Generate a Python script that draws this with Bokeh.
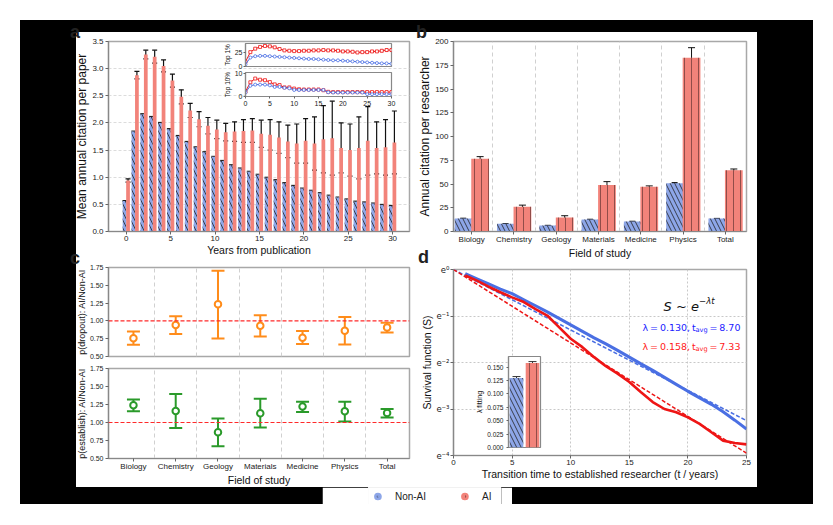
import numpy as np
from bokeh.plotting import figure
from bokeh.models import (ColumnDataSource, Whisker, TeeHead, FixedTicker, SingleIntervalTicker,
                          Span, Label, NumeralTickFormatter, CustomJSTickFormatter, Legend,
                          LegendItem, Range1d, Div, Column)
from bokeh.embed import file_html
from bokeh.resources import INLINE

# ---------------- data ----------------
years = list(range(31))
cit_nonai = [0.56, 1.84, 2.16, 2.11, 2.00, 1.885, 1.76, 1.65, 1.55, 1.46, 1.375, 1.30, 1.22, 1.16,
             1.10, 1.045, 0.99, 0.945, 0.89, 0.84, 0.79, 0.75, 0.705, 0.66, 0.625, 0.59, 0.55,
             0.535, 0.515, 0.49, 0.47]
cit_nonai_err = [0.01] * 31
cit_ai = [0.94, 2.88, 3.26, 3.22, 3.05, 2.78, 2.48, 2.23, 2.07, 1.95, 1.88, 1.83, 1.84, 1.85, 1.86,
          1.80, 1.78, 1.73, 1.66, 1.62, 1.67, 1.62, 1.70, 1.72, 1.54, 1.50, 1.54, 1.67, 1.54,
          1.55, 1.64]
cit_ai_err = [0.03, 0.07, 0.08, 0.12, 0.11, 0.12, 0.13, 0.13, 0.14, 0.15, 0.17, 0.16, 0.18, 0.21,
              0.22, 0.25, 0.28, 0.29, 0.30, 0.36, 0.41, 0.49, 0.62, 0.68, 0.46, 0.48, 0.57, 0.63,
              0.48, 0.51, 0.58]

top1_ai = [8.3, 25.0, 31.0, 34.0, 35.7, 35.0, 33.3, 30.4, 28.0, 27.4, 26.8, 26.8, 27.4, 27.4, 28.0,
           28.0, 28.6, 28.0, 28.0, 27.4, 26.2, 26.2, 25.6, 24.4, 25.0, 25.0, 26.2, 26.2, 27.4,
           28.6, 28.6]
top1_ai_err = [0.5, 0.8, 0.8, 0.8, 0.8, 0.8, 0.8, 0.8, 0.8, 0.8, 0.8, 0.8, 0.8, 0.8, 0.8, 1.0,
               1.0, 1.0, 1.0, 1.0, 1.2, 1.2, 1.2, 1.5, 1.5, 1.5, 1.5, 1.5, 2.0, 2.0, 2.0]
top1_nonai = [3.6, 15.5, 17.9, 18.5, 18.5, 17.9, 17.3, 16.7, 16.1, 15.5, 14.9, 14.3, 13.7, 13.1,
              13.1, 12.5, 11.9, 11.3, 10.7, 10.7, 10.1, 9.5, 8.9, 8.3, 7.7, 7.1, 6.5, 6.0, 5.4,
              5.4, 4.8]
top10_ai = [2.1, 6.1, 7.7, 7.2, 7.0, 6.2, 5.2, 4.9, 3.9, 3.9, 3.4, 3.1, 3.0, 3.0, 3.0, 3.0, 2.7,
            2.0, 1.9, 1.9, 1.9, 1.9, 1.9, 1.9, 1.9, 1.9, 1.9, 1.9, 1.9, 1.9, 1.9]
top10_nonai = [1.7, 4.6, 5.1, 5.1, 5.1, 4.8, 4.1, 4.1, 3.7, 3.5, 2.8, 2.8, 2.8, 2.8, 2.8, 2.8, 2.8,
               1.8, 1.7, 1.7, 1.7, 1.7, 1.7, 1.7, 1.7, 1.0, 1.0, 1.0, 1.0, 1.0, 1.0]

fields = ["Biology", "Chemistry", "Geology", "Materials", "Medicine", "Physics", "Total"]
res_nonai = [13.7, 8.1, 6.3, 12.6, 10.5, 50.9, 13.6]
res_nonai_err = [0.3, 0.2, 0.2, 0.3, 0.3, 0.6, 0.2]
res_ai = [76.5, 26.0, 14.7, 49.0, 47.0, 183.0, 64.6]
res_ai_err = [2.3, 1.75, 1.9, 3.5, 1.0, 10.5, 1.2]

dropout = [0.758, 0.942, 1.233, 0.932, 0.763, 0.862, 0.909]
dropout_hi = [0.852, 1.064, 1.703, 1.078, 0.857, 1.055, 0.975]
dropout_lo = [0.664, 0.815, 0.754, 0.782, 0.674, 0.669, 0.838]
establish = [1.241, 1.160, 0.863, 1.127, 1.222, 1.156, 1.132]
establish_hi = [1.321, 1.396, 1.057, 1.330, 1.288, 1.288, 1.189]
establish_lo = [1.156, 0.925, 0.670, 0.929, 1.146, 1.014, 1.071]

surv_t = list(range(1, 26))
surv_ln_nonai = [-0.09, -0.20, -0.31, -0.42, -0.52, -0.65, -0.78, -0.91, -1.05, -1.19, -1.33,
                 -1.47, -1.60, -1.74, -1.885, -2.03, -2.17, -2.32, -2.47, -2.62, -2.76, -2.90,
                 -3.06, -3.24, -3.43]
surv_ln_ai = [-0.13, -0.24, -0.37, -0.49, -0.60, -0.70, -0.85, -0.99, -1.24, -1.49, -1.67, -1.885,
              -2.08, -2.24, -2.42, -2.64, -2.85, -3.00, -3.07, -3.18, -3.32, -3.50, -3.68, -3.73,
              -3.76]
lam_groups = ["Non-AI", "AI"]
lam_values = [0.130, 0.158]
lam_err = [0.0025, 0.0025]
t_avg = [8.70, 7.33]
fit_t = [0, 25]

# ---------------- style ----------------
FONT = "Liberation Sans"
MATH = "DejaVu Sans"
BLUE_BAR = "#8DA6E8"
RED_BAR = "#F2837A"
BLUE_LINE = "#4A6FE3"
RED_LINE = "#EE1515"
ORANGE = "#FF8C1A"
GREEN = "#2A9A2A"
LB = 46  # generous left border so every frame sits at a fixed place


def abs_style(left, top):
    return {"position": "absolute", "left": f"{left}px", "top": f"{top}px"}


def base_fig(w, h, l, r, t, b, xr, yr, pos, y_type="linear"):
    p = figure(width=w, height=h, x_range=xr, y_range=yr, toolbar_location=None,
               output_backend="svg", min_border_left=l, min_border_right=r,
               min_border_top=t, min_border_bottom=b, y_axis_type=y_type, title=None,
               styles=abs_style(*pos))
    p.border_fill_color = None
    p.background_fill_color = "white"
    p.outline_line_color = "#a8a8a8"
    p.outline_line_width = 1.5
    p.xgrid.grid_line_color = None
    p.ygrid.grid_line_color = None
    for ax in p.axis:
        ax.axis_line_color = "#888888"
        ax.axis_line_width = 1.2
        ax.major_tick_line_color = "#666666"
        ax.major_tick_out = 3
        ax.major_tick_in = 0
        ax.minor_tick_line_color = None
        ax.axis_label_standoff = 0
        ax.major_label_text_font = FONT
        ax.axis_label_text_font = FONT
        ax.major_label_text_font_size = "8px"
        ax.axis_label_text_font_size = "10.5px"
        ax.major_label_text_color = "#222222"
        ax.axis_label_text_color = "#111111"
        ax.axis_label_text_font_style = "normal"
    p.yaxis.major_label_standoff = 1
    p.xaxis.major_label_standoff = 0
    return p


def whisker(src, base, lo, hi, color, width, size):
    return Whisker(source=src, base=base, lower=lo, upper=hi, line_color=color, line_width=width,
                   upper_head=TeeHead(size=size, line_color=color, line_width=width),
                   lower_head=TeeHead(size=size, line_color=color, line_width=width))


# ---------------- panel a ----------------
src_a = ColumnDataSource(dict(
    xn=[y - 0.2 for y in years], xa=[y + 0.2 for y in years],
    non=cit_nonai, ai=cit_ai,
    non_lo=[v - e for v, e in zip(cit_nonai, cit_nonai_err)],
    non_hi=[v + e for v, e in zip(cit_nonai, cit_nonai_err)],
    ai_lo=[v - e for v, e in zip(cit_ai, cit_ai_err)],
    ai_hi=[v + e for v, e in zip(cit_ai, cit_ai_err)]))
pa = base_fig(LB + 302 + 10, 9 + 190 + 34, LB, 10, 9, 34, Range1d(-2, 31.9), Range1d(0, 3.5),
              (108 - LB, 32))
pa.ygrid.grid_line_color = "#dcdcdc"
pa.ygrid.grid_line_dash = "3 2"
pa.vbar(x="xn", top="non", width=0.4, source=src_a, fill_color=BLUE_BAR, line_color=None,
        hatch_pattern="\\", hatch_color="#222222", hatch_scale=8, hatch_weight=0.8)
pa.vbar(x="xa", top="ai", width=0.42, source=src_a, fill_color=RED_BAR, line_color=None)
pa.add_layout(whisker(src_a, "xn", "non_lo", "non_hi", "#111111", 1, 4))
pa.add_layout(whisker(src_a, "xa", "ai_lo", "ai_hi", "#111111", 1.2, 5))
pa.xaxis.ticker = SingleIntervalTicker(interval=5)
pa.yaxis.ticker = SingleIntervalTicker(interval=0.5)
pa.yaxis.formatter = NumeralTickFormatter(format="0.0")
pa.xaxis.axis_label = "Years from publication"
pa.yaxis.axis_label = "Mean annual citation per paper"
pa.yaxis.axis_label_text_font_size = "12px"

# insets of panel a
src_i = ColumnDataSource(dict(
    x=years, t1a=top1_ai, t1n=top1_nonai, t10a=top10_ai, t10n=top10_nonai,
    t1lo=[v - e for v, e in zip(top1_ai, top1_ai_err)],
    t1hi=[v + e for v, e in zip(top1_ai, top1_ai_err)]))


def inset_style(p, label):
    for ax in p.axis:
        ax.major_label_text_font_size = "7px"
        ax.axis_label_text_font_size = "6.5px"
        ax.major_tick_out = 2
        ax.axis_label_standoff = 1
    p.yaxis.axis_label = label
    p.outline_line_width = 1.2
    p.outline_line_color = "#888888"


IB = 30
pi1 = base_fig(IB + 170 + 3, 29, IB, 3, 3, 3, Range1d(0, 30), Range1d(0, 40), (229 - IB, 40))
inset_style(pi1, "Top 1%")
pi1.xaxis.visible = False
pi1.yaxis.ticker = FixedTicker(ticks=[0, 25])
pi1.line("x", "t1a", source=src_i, line_color=RED_LINE, line_width=1)
pi1.scatter("x", "t1a", source=src_i, marker="square", size=3, fill_color="white",
            line_color=RED_LINE, line_width=0.8)
pi1.add_layout(whisker(src_i, "x", "t1lo", "t1hi", RED_LINE, 0.8, 3))
pi1.line("x", "t1n", source=src_i, line_color=BLUE_LINE, line_width=1)
pi1.scatter("x", "t1n", source=src_i, marker="circle", size=3, fill_color="white",
            line_color=BLUE_LINE, line_width=0.8)

pi2 = base_fig(IB + 170 + 3, 3 + 24 + 14, IB, 3, 3, 14, Range1d(0, 30), Range1d(0, 10.3),
               (229 - IB, 69))
inset_style(pi2, "Top 10%")
pi2.xaxis.ticker = SingleIntervalTicker(interval=5)
pi2.yaxis.ticker = FixedTicker(ticks=[0, 10])
pi2.line("x", "t10a", source=src_i, line_color=RED_LINE, line_width=1)
pi2.scatter("x", "t10a", source=src_i, marker="square", size=3, fill_color="white",
            line_color=RED_LINE, line_width=0.8)
pi2.line("x", "t10n", source=src_i, line_color=BLUE_LINE, line_width=1)
pi2.scatter("x", "t10n", source=src_i, marker="circle", size=3, fill_color="white",
            line_color=BLUE_LINE, line_width=0.8)

# ---------------- panel b ----------------
idx = list(range(len(fields)))
src_b = ColumnDataSource(dict(
    xn=[i - 0.2 for i in idx], xa=[i + 0.2 for i in idx], non=res_nonai, ai=res_ai,
    non_lo=[v - e for v, e in zip(res_nonai, res_nonai_err)],
    non_hi=[v + e for v, e in zip(res_nonai, res_nonai_err)],
    ai_lo=[v - e for v, e in zip(res_ai, res_ai_err)],
    ai_hi=[v + e for v, e in zip(res_ai, res_ai_err)]))
pb = base_fig(LB + 298 + 6, 9 + 190 + 34, LB, 6, 9, 34, Range1d(-0.43, 6.5), Range1d(0, 200),
              (453 - LB, 32))
pb.vbar(x="xn", top="non", width=0.4, source=src_b, fill_color=BLUE_BAR, line_color=None,
        hatch_pattern="\\", hatch_color="#222222", hatch_scale=9, hatch_weight=0.8)
pb.vbar(x="xa", top="ai", width=0.42, source=src_b, fill_color=RED_BAR, line_color=None,
        hatch_pattern="|", hatch_color="#442222", hatch_scale=7, hatch_weight=0.8, hatch_alpha=0.7)
pb.add_layout(whisker(src_b, "xn", "non_lo", "non_hi", "#111111", 1, 6))
pb.add_layout(whisker(src_b, "xa", "ai_lo", "ai_hi", "#111111", 1, 7))
pb.xaxis.ticker = FixedTicker(ticks=idx)
pb.xaxis.major_label_overrides = {i: f for i, f in enumerate(fields)}
pb.xgrid.ticker = FixedTicker(ticks=[i + 0.5 for i in idx[:-1]])
pb.xgrid.grid_line_color = "#d0d0d0"
pb.xgrid.grid_line_dash = "4 3"
pb.yaxis.ticker = SingleIntervalTicker(interval=25)
pb.xaxis.axis_label = "Field of study"
pb.yaxis.axis_label = "Annual citation per researcher"
pb.yaxis.axis_label_text_font_size = "12px"

# ---------------- panel c ----------------


def ratio_panel(top, frame_h, bottom, vals, lo, hi, color, label, show_x, y0):
    p = base_fig(LB + 303 + 9, top + frame_h + bottom, LB, 9, top, bottom,
                 Range1d(-0.59, 6.53), Range1d(0.5, 1.75), (108 - LB, y0))
    src = ColumnDataSource(dict(x=idx, v=vals, lo=lo, hi=hi))
    p.xgrid.ticker = FixedTicker(ticks=[i + 0.5 for i in idx[:-1]])
    p.xgrid.grid_line_color = "#d0d0d0"
    p.xgrid.grid_line_dash = "4 3"
    p.add_layout(Span(location=1.0, dimension="width", line_color="#ff2a2a", line_width=1.2,
                      line_dash="4 2"))
    p.add_layout(whisker(src, "x", "lo", "hi", color, 2, 13))
    p.scatter("x", "v", source=src, marker="circle", size=6.5, fill_color="white",
              line_color=color, line_width=2)
    p.yaxis.ticker = SingleIntervalTicker(interval=0.25)
    p.yaxis.formatter = NumeralTickFormatter(format="0.00")
    p.yaxis.major_label_text_font_size = "7px"
    p.yaxis.axis_label = label
    p.yaxis.axis_label_text_font_size = "9px"
    if show_x:
        p.xaxis.ticker = FixedTicker(ticks=idx)
        p.xaxis.major_label_overrides = {i: f for i, f in enumerate(fields)}
        p.xaxis.axis_label = "Field of study"
    else:
        p.xaxis.visible = False
    return p


pc1 = ratio_panel(9, 89, 6, dropout, dropout_lo, dropout_hi, ORANGE, "p(dropout): AI/Non-AI",
                  False, 258)
pc2 = ratio_panel(6, 90, 36, establish, establish_lo, establish_hi, GREEN,
                  "p(establish): AI/Non-AI", True, 362)

# ---------------- panel d ----------------
pdd = base_fig(LB + 293 + 11, 11 + 186 + 38, LB, 11, 11, 38, Range1d(0, 25),
               Range1d(np.exp(-4), 1.0), (453 - LB, 258), y_type="log")
pdd.xgrid.grid_line_color = "#c8c8c8"
pdd.ygrid.grid_line_color = "#c8c8c8"
pdd.xgrid.grid_line_dash = "2 2"
pdd.ygrid.grid_line_dash = "2 2"
pdd.xaxis.ticker = SingleIntervalTicker(interval=5)
pdd.yaxis.ticker = FixedTicker(ticks=[float(np.exp(-k)) for k in range(4, -1, -1)])
pdd.yaxis.formatter = CustomJSTickFormatter(code="""
const k = Math.round(Math.log(tick));
const m = {"0":"\\u2070","1":"\\u00b9","2":"\\u00b2","3":"\\u00b3","4":"\\u2074","-":"\\u207b"};
return "e" + String(k).split("").map(c => m[c]).join("");
""")
pdd.yaxis.major_label_text_font = MATH
pdd.yaxis.major_label_text_font_size = "8.5px"
pdd.xaxis.axis_label = "Transition time to established researcher (t / years)"
pdd.yaxis.axis_label = "Survival function (S)"
pdd.line(fit_t, [float(np.exp(-lam_values[0] * t)) for t in fit_t], line_color=BLUE_LINE,
         line_width=1.5, line_dash="4 2")
pdd.line(fit_t, [float(np.exp(-lam_values[1] * t)) for t in fit_t], line_color=RED_LINE,
         line_width=1.5, line_dash="4 2")
pdd.line(surv_t, np.exp(surv_ln_nonai), line_color=BLUE_LINE, line_width=3)
pdd.line(surv_t, np.exp(surv_ln_ai), line_color=RED_LINE, line_width=2.6)


def lab(p, x, y, text, size, color, dx=0, dy=0, style="normal"):
    p.add_layout(Label(x=x, y=y, text=text, text_font=MATH, text_font_size=size,
                       text_color=color, x_offset=dx, y_offset=dy, text_font_style=style,
                       text_baseline="alphabetic", text_align="left"))


lab(pdd, 17.92, float(np.exp(-0.796)), "S ~ e", "13px", "#111111", style="italic")
lab(pdd, 17.92, float(np.exp(-0.796)), "\u2212\u03bbt", "8.5px", "#111111", dx=35.5, dy=6,
    style="italic")
for ln_y, col, lam, ta in [(-1.247, "#1a1aff", lam_values[0], t_avg[0]),
                           (-1.656, "#ff1a1a", lam_values[1], t_avg[1])]:
    yy = float(np.exp(ln_y))
    lab(pdd, 16.13, yy, f"\u03bb\u2009=\u2009{lam:.3f},\u2009t", "9.5px", col)
    lab(pdd, 16.13, yy, "avg", "6.6px", col, dx=53, dy=-2.5)
    lab(pdd, 16.13, yy, f"\u2009=\u2009{ta:.2f}", "9.5px", col, dx=65)

# inset of panel d
src_l = ColumnDataSource(dict(x=[0, 1], v=lam_values,
                              lo=[v - e for v, e in zip(lam_values, lam_err)],
                              hi=[v + e for v, e in zip(lam_values, lam_err)]))
pid = base_fig(IB + 56 + 3, 97, IB, 3, 3, 3, Range1d(-0.5, 1.5), Range1d(0, 0.17),
               (492 - IB, 353))
for ax in pid.axis:
    ax.major_label_text_font_size = "6.5px"
    ax.axis_label_text_font_size = "7px"
    ax.major_tick_out = 2
    ax.axis_label_standoff = 1
pid.outline_line_color = "#888888"
pid.outline_line_width = 1.2
pid.xaxis.visible = False
pid.vbar(x="x", top="v", width=0.85, source=ColumnDataSource(dict(x=[0], v=[lam_values[0]])),
         fill_color=BLUE_BAR, line_color=None,
         hatch_pattern="\\", hatch_color="#222222", hatch_scale=9, hatch_weight=0.8)
pid.vbar(x="x", top="v", width=0.85, source=ColumnDataSource(dict(x=[1], v=[lam_values[1]])),
         fill_color=RED_BAR, line_color=None,
         hatch_pattern="|", hatch_color="#442222", hatch_scale=7, hatch_weight=0.8, hatch_alpha=0.7)
pid.add_layout(whisker(src_l, "x", "lo", "hi", "#333333", 1, 8))
pid.yaxis.ticker = SingleIntervalTicker(interval=0.025)
pid.yaxis.formatter = NumeralTickFormatter(format="0.000")
pid.yaxis.axis_label = "\u03bb fitting"

# ---------------- legend strip ----------------
leg = figure(width=190, height=17, toolbar_location=None, output_backend="svg", min_border=0,
             x_range=Range1d(0, 1), y_range=Range1d(0, 1), x_axis_location=None,
             y_axis_location=None, title=None, styles=abs_style(322, 487))
leg.xgrid.visible = False
leg.ygrid.visible = False
leg.outline_line_color = None
leg.border_fill_color = "white"
r1 = leg.scatter([5], [5], marker="circle", size=6, fill_color=BLUE_BAR, line_color=BLUE_BAR,
                 line_width=2.5, hatch_pattern="\\", hatch_color="#222222", hatch_scale=7,
                 hatch_weight=0.8)
r2 = leg.scatter([5], [5], marker="circle", size=6, fill_color=RED_BAR, line_color=RED_BAR,
                 line_width=2.5, hatch_pattern="|", hatch_color="#442222", hatch_scale=7,
                 hatch_weight=0.9)
legend = Legend(items=[LegendItem(label=lam_groups[0], renderers=[r1]),
                       LegendItem(label=lam_groups[1], renderers=[r2])],
                orientation="horizontal", location="center", glyph_width=20, glyph_height=13,
                label_standoff=8, spacing=28, padding=2, margin=0,
                border_line_color="#dddddd", border_line_width=1,
                label_text_font=FONT, label_text_font_size="10px", label_text_color="#222222",
                background_fill_color="white")
leg.add_layout(legend, "center")

# ---------------- backdrop and panel letters ----------------


def block(left, top, w, h, color):
    return Div(text="", width=w, height=h, margin=(0, 0, 0, 0),
               styles={"position": "absolute", "left": f"{left}px", "top": f"{top}px",
                       "background-color": color})


def letter(t, left, top):
    return Div(text=t, width=16, height=22, margin=(0, 0, 0, 0),
               styles={"position": "absolute", "left": f"{left}px", "top": f"{top}px",
                       "font-family": FONT, "font-size": "18px", "font-weight": "bold",
                       "color": "#222222", "line-height": "1"})


# ---------------- layout ----------------
root = Column(children=[block(20, 20, 793, 484, "black"), block(76, 32, 681, 455, "white"),
                        pa, pb, pc1, pc2, pdd, leg, pi1, pi2, pid,
                        letter("a", 70, 23), letter("b", 416, 23),
                        letter("c", 70, 249), letter("d", 418, 248)],
              width=820, height=510, styles={"position": "relative"})

open("out.html", "w").write(file_html(root, INLINE))
